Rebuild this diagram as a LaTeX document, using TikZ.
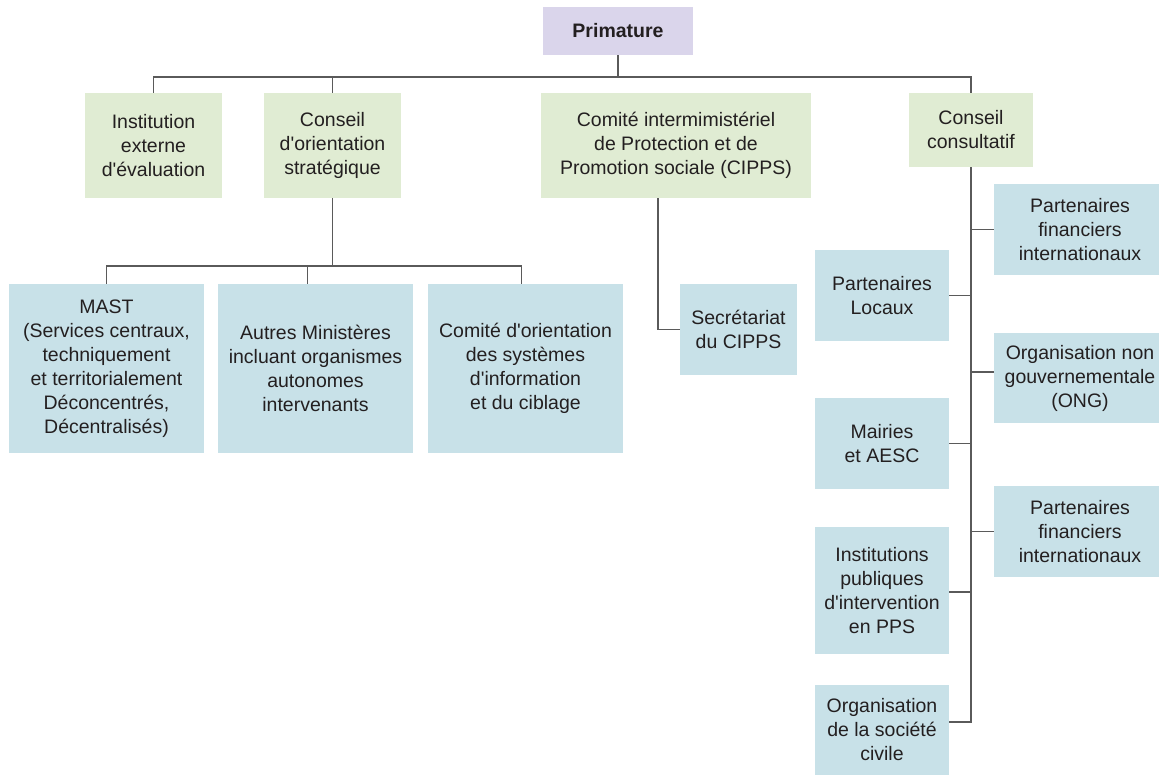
\documentclass[tikz,border=0pt]{standalone}
\usepackage{fontspec}
\setmainfont{Liberation Sans}[Ligatures=TeXOff]
\definecolor{gfill}{HTML}{E0ECD3}
\definecolor{bfill}{HTML}{C8E1E8}
\definecolor{pfill}{HTML}{DAD5EB}
\definecolor{linec}{HTML}{5A5A5A}
\definecolor{txt}{HTML}{231F20}
\tikzset{
  box/.style={rectangle, inner sep=0pt, align=center, text=txt,
    font=\fontsize{19.5}{24}\selectfont},
  gbox/.style={box, fill=gfill},
  bbox/.style={box, fill=bfill},
  pbox/.style={box, fill=pfill, font=\fontsize{19.5}{24}\selectfont\bfseries},
  conn/.style={draw=linec, line width=1.8pt}
}
\begin{document}
\begin{tikzpicture}[x=1pt,y=-1pt]
\useasboundingbox (0,0) rectangle (1159,774);
\clip (0,0) rectangle (1159,774);
% top
\node[pbox, minimum width=150pt, minimum height=48pt] (prim) at (618,31) {Primature};
\node[gbox, minimum width=137pt, minimum height=105pt] (inst) at (153.5,145.5) {Institution\\externe\\d'évaluation};
\node[gbox, minimum width=137pt, minimum height=105pt] (cos) at (332.5,145.5) {Conseil\\d'orientation\\stratégique};
\node[gbox, minimum width=270pt, minimum height=105pt] (cipps) at (676,145.5) {Comité intermimistériel\\de Protection et de\\Promotion sociale (CIPPS)};
\node[gbox, minimum width=124pt, minimum height=74pt] (cc) at (971,130) {Conseil\\consultatif};
% second level
\node[bbox, minimum width=195pt, minimum height=169pt] (mast) at (106.5,368.5) {MAST\\(Services centraux,\\techniquement\\et territorialement\\Déconcentrés,\\Décentralisés)};
\node[bbox, minimum width=195pt, minimum height=169pt] (autres) at (315.5,368.5) {Autres Ministères\\incluant organismes\\autonomes\\intervenants};
\node[bbox, minimum width=195pt, minimum height=169pt] (cdo) at (525.5,368.5) {Comité d'orientation\\des systèmes\\d'information\\et du ciblage};
\node[bbox, minimum width=117pt, minimum height=91pt] (sec) at (738.5,329.5) {Secrétariat\\du CIPPS};
% right column
\node[bbox, minimum width=172pt, minimum height=91pt] (pfi1) at (1080,229.5) {Partenaires\\financiers\\internationaux};
\node[bbox, minimum width=134pt, minimum height=91pt] (pl) at (882,295.5) {Partenaires\\Locaux};
\node[bbox, minimum width=172pt, minimum height=90pt] (ong) at (1080,378) {Organisation non\\gouvernementale\\(ONG)};
\node[bbox, minimum width=134pt, minimum height=91pt] (mai) at (882,443.5) {Mairies\\et AESC};
\node[bbox, minimum width=172pt, minimum height=91pt] (pfi2) at (1080,531.5) {Partenaires\\financiers\\internationaux};
\node[bbox, minimum width=134pt, minimum height=127pt] (ip) at (882,590.5) {Institutions\\publiques\\d'intervention\\en PPS};
\node[bbox, minimum width=134pt, minimum height=90pt] (osc) at (882,730) {Organisation\\de la société\\civile};
% coordinates
\coordinate (bus) at (0,77);
\coordinate (bus2) at (0,266);
\coordinate (trunkEnd) at (972,722);
% connectors top
\draw[conn] (prim.south) -- (prim.south |- bus);
\draw[conn] (inst.north) -- (inst.north |- bus) -| (cc.north);
\draw[conn] (cos.north) -- (cos.north |- bus);
% Conseil d'orientation
\draw[conn] (cos.south) -- (cos.south |- bus2);
\draw[conn] (mast.north) -- (mast.north |- bus2) -| ([xshift=-4pt]cdo.north);
\draw[conn] ([xshift=-8pt]autres.north) -- ([xshift=-8pt]autres.north |- bus2);
% CIPPS
\draw[conn] ([xshift=-18pt]cipps.south) |- (sec.west);
% right trunk
\draw[conn] (cc.south) -- (cc.south |- trunkEnd) -- (osc.east |- trunkEnd);
\draw[conn] (pfi1.west) -- (pfi1.west -| trunkEnd);
\draw[conn] (pl.east) -- (pl.east -| trunkEnd);
\draw[conn] ([yshift=6pt]ong.west) -- ([yshift=6pt]ong.west -| trunkEnd);
\draw[conn] (mai.east) -- (mai.east -| trunkEnd);
\draw[conn] (pfi2.west) -- (pfi2.west -| trunkEnd);
\draw[conn] ([yshift=-1.5pt]ip.east) -- ([yshift=-1.5pt]ip.east -| trunkEnd);
\end{tikzpicture}
\end{document}
